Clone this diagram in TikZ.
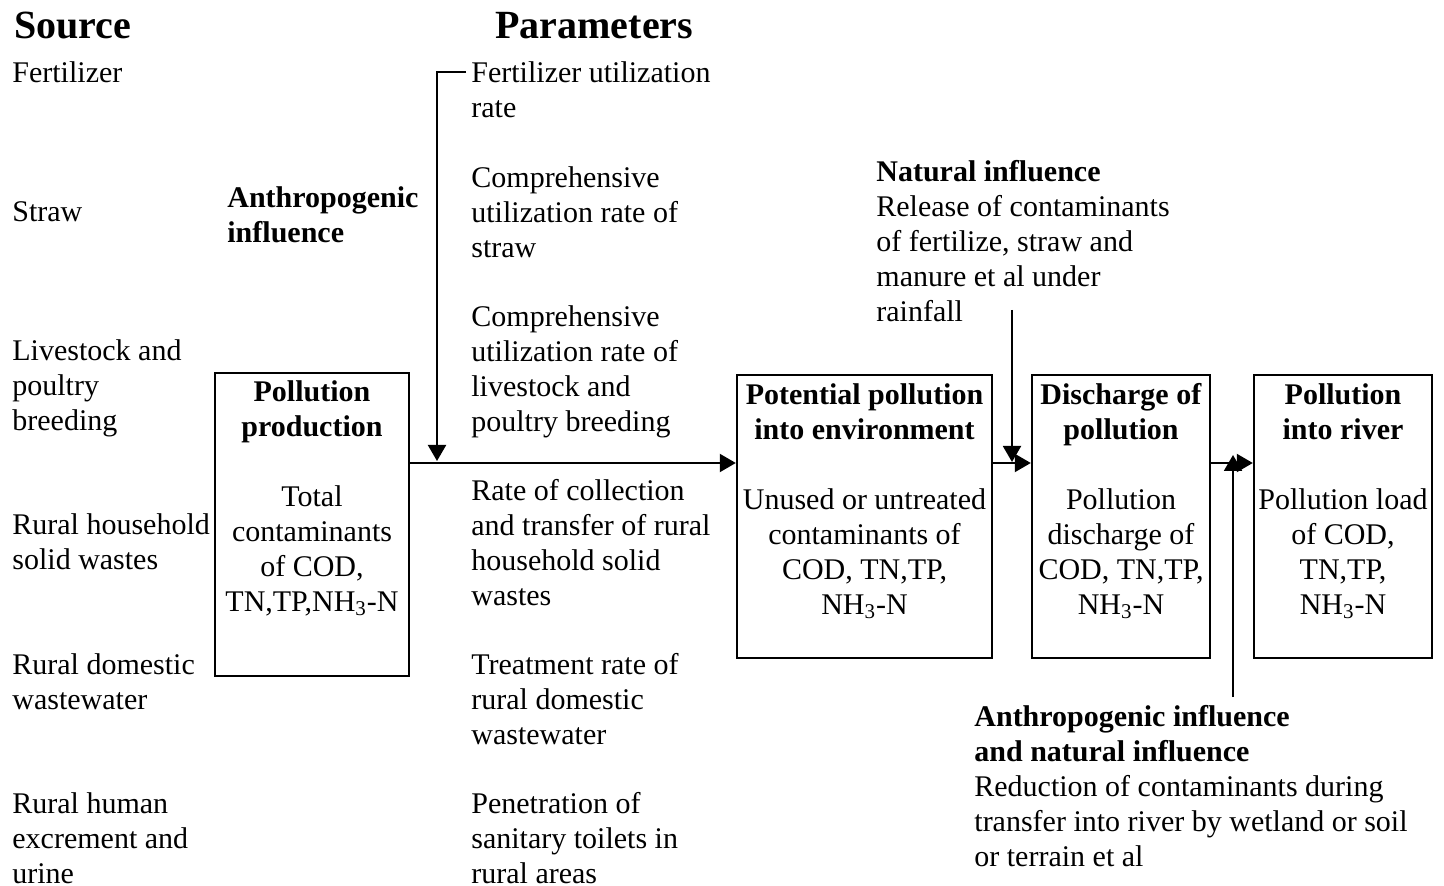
\documentclass[tikz,border=0pt]{standalone}
\usepackage{fontspec}
\setmainfont{Liberation Serif}
\usetikzlibrary{positioning,arrows.meta,calc}
\tikzset{
  flow/.style={-{Triangle[length=8pt,width=9pt]}, line width=1pt, color=black},
  hd/.style={font=\fontsize{20}{24}\selectfont\bfseries, anchor=north west, inner sep=0pt},
  txt/.style={font=\fontsize{15}{17.5}\selectfont, align=left, anchor=north west, inner sep=0pt},
  stage/.style={draw, line width=1.2pt, minimum width=#1, minimum height=141.5pt, inner sep=0pt},
  stage/.default=89pt,
  stagetxt/.style={font=\fontsize{15}{17.5}\selectfont, align=center, anchor=north, inner sep=0pt},
}
\begin{document}
\begin{tikzpicture}[x=0.5pt, y=-0.5pt]
  \useasboundingbox (0,0) rectangle (1444,886);
  % headings
  \node[hd] (srchd) at (14,12) {Source};
  \node[hd] (parhd) at (495,12) {Parameters};
  % sources
  \node[txt] (fertsrc)  at (12,61)  {Fertilizer};
  \node[txt] (strawsrc) at (12,201) {Straw};
  \node[txt] (lvsrc)    at (12,339) {Livestock and\\poultry\\breeding};
  \node[txt] (swsrc)    at (12,513) {Rural household\\solid wastes};
  \node[txt] (wwsrc)    at (12,653) {Rural domestic\\wastewater};
  \node[txt] (hesrc)    at (12,792) {Rural human\\excrement and\\urine};
  % parameters
  \node[txt] (fertpar)  at (471,61)  {Fertilizer utilization\\rate};
  \node[txt] (strawpar) at (471,166) {Comprehensive\\utilization rate of\\straw};
  \node[txt] (lvpar)    at (471,305) {Comprehensive\\utilization rate of\\livestock and\\poultry breeding};
  \node[txt] (swpar)    at (471,479) {Rate of collection\\and transfer of rural\\household solid\\wastes};
  \node[txt] (wwpar)    at (471,653) {Treatment rate of\\rural domestic\\wastewater};
  \node[txt] (hepar)    at (471,792) {Penetration of\\sanitary toilets in\\rural areas};
  % influences
  \node[txt, font=\fontsize{15}{17.5}\selectfont\bfseries] (anthro) at (227,186) {Anthropogenic\\influence};
  \node[txt] (natural) at (876,160) {\textbf{Natural influence}\\Release of contaminants\\of fertilize, straw and\\manure et al under\\rainfall};
  \node[txt] (reduce) at (974,705) {\textbf{Anthropogenic influence}\\\textbf{and natural influence}\\Reduction of contaminants during\\transfer into river by wetland or soil\\or terrain et al};
  % stages
  \node[stage=97pt, minimum height=151.5pt] (prod) at (312,524.5) {};
  \node[stage=127.5pt] (pot)   at (864.5,516.5) {};
  \node[stage]         (disch) at (1121,516.5) {};
  \node[stage]         (river) at (1343,516.5) {};
  \node[stagetxt] (prodtxt) at ([yshift=-4pt]prod.north)
    {\textbf{Pollution}\\\textbf{production}\\[17.5pt]Total\\contaminants\\of COD,\\TN,TP,NH\textsubscript{3}-N};
  \node[stagetxt] (pottxt) at ([yshift=-4.5pt]pot.north)
    {\textbf{Potential pollution}\\\textbf{into environment}\\[17.5pt]Unused or untreated\\contaminants of\\COD, TN,TP,\\NH\textsubscript{3}-N};
  \node[stagetxt] (dischtxt) at ([yshift=-4.5pt]disch.north)
    {\textbf{Discharge of}\\\textbf{pollution}\\[17.5pt]Pollution\\discharge of\\COD, TN,TP,\\NH\textsubscript{3}-N};
  \node[stagetxt] (rivertxt) at ([yshift=-4.5pt]river.north)
    {\textbf{Pollution}\\\textbf{into river}\\[17.5pt]Pollution load\\of COD,\\TN,TP,\\NH\textsubscript{3}-N};
  % connectors
  \coordinate (main) at (0,463);
  \coordinate (fdrop) at (437,461);
  \coordinate (ntop) at (1012,310);
  \coordinate (nend) at (1012,462);
  \coordinate (rbot) at (1233,697);
  \coordinate (rend) at (1233,455);
  \draw[flow] (prod.east |- main) -- (pot.west |- main);
  \draw[flow] (pot.east |- main) -- (disch.west |- main);
  \draw[flow] (disch.east |- main) -- (river.west |- main);
  \draw[flow] ([xshift=-2.5pt,yshift=-5.5pt]fertpar.north west) -| (fdrop);
  \draw[flow] (ntop) -- (nend);
  \draw[flow] (rbot) -- (rend);
\end{tikzpicture}
\end{document}
